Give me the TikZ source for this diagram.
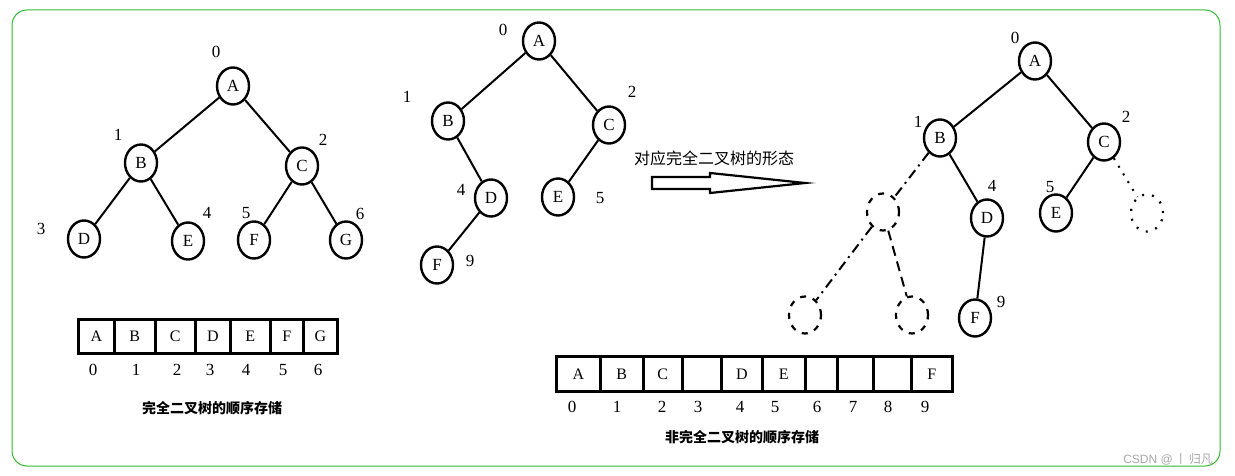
\documentclass[tikz,border=0pt]{standalone}
\usepackage{fontspec}
\setmainfont{Liberation Serif}
\newfontfamily\cjk{Noto Sans CJK SC}
\newfontfamily\wm{Liberation Sans}
\usetikzlibrary{shapes.geometric}
\tikzset{
 nd/.style={draw,line width=2.4pt,ellipse,minimum width=32pt,minimum height=37pt,inner sep=0pt,font=\fontsize{17}{17}\selectfont},
 ghost/.style={draw,line width=2.2pt,ellipse,minimum width=32pt,minimum height=37pt,inner sep=0pt,dash pattern=on 6pt off 7pt},
 num/.style={font=\fontsize{17}{17}\selectfont,inner sep=0pt},
 edge/.style={line width=2pt},
 cell/.style={draw,line width=2.6pt,minimum height=34pt,inner sep=0pt,anchor=north west,font=\fontsize{16}{16}\selectfont},
 captxt/.style={font=\cjk\bfseries\fontsize{14}{14}\selectfont,inner sep=0pt}
}
\begin{document}
\begin{tikzpicture}[x=1pt,y=-1pt]
\useasboundingbox (0,0) rectangle (1235,476);
\draw[green!65!black!80,line width=1pt,rounded corners=15pt] (12,10) rectangle (1220,466);
% tree 1
\node[nd] (a1) at (233,86) {A};
\node[nd] (b1) at (141,163) {B};
\node[nd] (c1) at (302,166) {C};
\node[nd] (d1) at (84,239) {D};
\node[nd] (e1) at (188,241) {E};
\node[nd] (f1) at (254,240) {F};
\node[nd] (g1) at (346,240) {G};
\foreach \p/\q in {a1/b1,a1/c1,b1/d1,b1/e1,c1/f1,c1/g1} \draw[edge] (\p)--(\q);
\node[num] (n10) at (216,52) {0};
\node[num] (n11) at (118,135) {1};
\node[num] (n12) at (323,140) {2};
\node[num] (n13) at (41,229) {3};
\node[num] (n14) at (207,213) {4};
\node[num] (n15) at (246,213) {5};
\node[num] (n16) at (360,214) {6};
% array 1
\foreach \x/\w/\t/\i/\ix in {77/36/A/0/93,113/41/B/1/136,154/40/C/2/177,194/35/D/3/210,229/40/E/4/246,269/33/F/5/283,302/34/G/6/318}
 {\node[cell,minimum width=\w pt] (ca\i) at (\x,318) {\t};
  \node[num] (ia\i) at (\ix,370) {\i};}
\node[captxt] (cap1) at (212,408) {完全二叉树的顺序存储};
% tree 2
\node[nd] (a2) at (539,41) {A};
\node[nd] (b2) at (448,121) {B};
\node[nd] (c2) at (609,125) {C};
\node[nd] (d2) at (491,198) {D};
\node[nd] (e2) at (558,197) {E};
\node[nd] (f2) at (437,265) {F};
\foreach \p/\q in {a2/b2,a2/c2,b2/d2,c2/e2,d2/f2} \draw[edge] (\p)--(\q);
\node[num] (n20) at (503,30) {0};
\node[num] (n21) at (407,97) {1};
\node[num] (n22) at (632,92) {2};
\node[num] (n24) at (461,190) {4};
\node[num] (n25) at (600,198) {5};
\node[num] (n29) at (470,261) {9};
% arrow
\node[inner sep=0pt,font=\cjk\fontsize{16}{16}\selectfont] (lbl) at (714,158) {对应完全二叉树的形态};
\draw[line width=2.2pt] (652,177) -- (710,177) -- (710,173) -- (805,183) -- (710,193) -- (710,189) -- (652,189) -- cycle;
% tree 3
\node[nd] (a3) at (1035,61) {A};
\node[nd] (b3) at (940,138) {B};
\node[nd] (c3) at (1104,142) {C};
\node[nd] (d3) at (987,218) {D};
\node[nd] (e3) at (1056,213) {E};
\node[nd] (f3) at (975,318) {F};
\node[ghost] (h1) at (883,212) {};
\node[ghost] (h2) at (805,315) {};
\node[ghost] (h3) at (912,315) {};
\node[ghost,dash pattern=on 2pt off 8pt] (h4) at (1147,213) {};
\foreach \p/\q in {a3/b3,a3/c3,b3/d3,c3/e3,d3/f3} \draw[edge] (\p)--(\q);
\draw[edge,dash pattern=on 10pt off 5pt on 2pt off 5pt] (b3)--(h1);
\draw[edge,dash pattern=on 10pt off 5pt on 2pt off 5pt] (h1)--(h2);
\draw[edge,dash pattern=on 10pt off 6pt] (h1)--(h3);
\draw[edge,dash pattern=on 2pt off 7pt] (c3)--(h4);
\node[num] (n30) at (1015,38) {0};
\node[num] (n31) at (918,122) {1};
\node[num] (n32) at (1126,117) {2};
\node[num] (n34) at (992,186) {4};
\node[num] (n35) at (1050,187) {5};
\node[num] (n39) at (1001,302) {9};
% array 2
\foreach \x/\w/\t/\i/\ix in {555/44/A/0/572,599/43/B/1/617,642/39/C/2/662,681/39/{}/3/698,720/41/D/4/740,761/43/E/5/775,804/32/{}/6/817,836/36/{}/7/853,872/38/{}/8/888,910/41/F/9/925}
 {\node[cell,minimum width=\w pt,minimum height=35pt] (cb\i) at (\x,355) {\t};
  \node[num] (ib\i) at (\ix,407) {\i};}
\node[captxt] (cap2) at (742,437) {非完全二叉树的顺序存储};
\node[font=\wm\fontsize{12}{12}\selectfont,text=gray!70,inner sep=0pt] (wmk) at (1168,459) {CSDN @\,{\cjk 丨\,归凡}};
\end{tikzpicture}
\end{document}
